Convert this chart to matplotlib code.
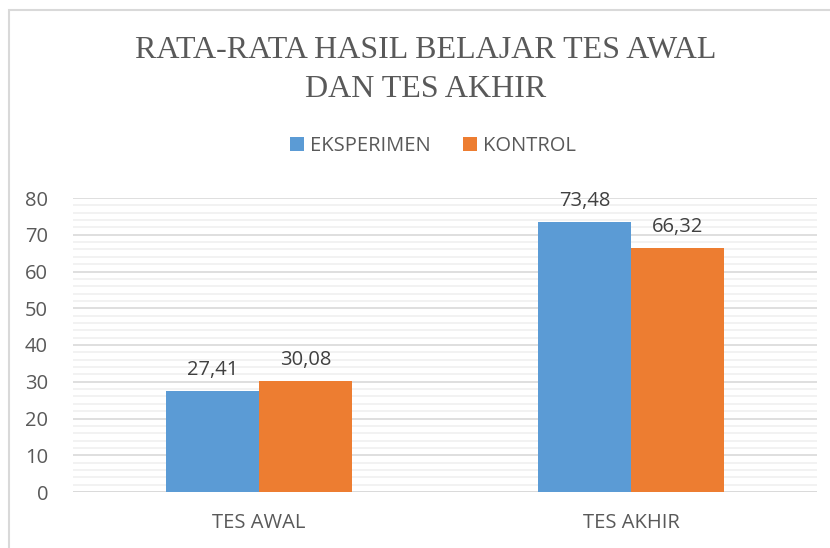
import matplotlib.pyplot as plt
import numpy as np
from matplotlib.patches import Rectangle
from matplotlib.ticker import MultipleLocator

categories = ["TES AWAL", "TES AKHIR"]
eksperimen = [27.41, 73.48]
kontrol = [30.08, 66.32]
series_names = ["EKSPERIMEN", "KONTROL"]
title = "RATA-RATA HASIL BELAJAR TES AWAL\nDAN TES AKHIR"

blue = "#5B9BD5"
orange = "#ED7D31"
text_gray = "#595959"

plt.rcParams['font.family'] = ['Open Sans', 'DejaVu Sans']

fig = plt.figure(figsize=(8.3, 5.48), dpi=100)
ax = fig.add_axes([73 / 830, 1 - 492 / 548, 744 / 830, (492 - 198) / 548])

# chart border (only left and top visible in the crop)
fig.patches.append(Rectangle((8.5 / 830, -0.1), 1.2, 1.1 - 10.5 / 548,
                             transform=fig.transFigure, fill=False,
                             edgecolor="#D9D9D9", linewidth=1.5))

x = np.arange(len(categories))
w = 0.25
b1 = ax.bar(x - w / 2, eksperimen, w, color=blue, label=series_names[0], zorder=3)
b2 = ax.bar(x + w / 2, kontrol, w, color=orange, label=series_names[1], zorder=3)

for bars, vals in ((b1, eksperimen), (b2, kontrol)):
    for rect, v in zip(bars, vals):
        ax.text(rect.get_x() + rect.get_width() / 2, v + 4.4, f"{v:.2f}".replace(".", ","),
                ha="center", va="baseline", fontsize=14.5, color="#404040")

ax.set_xlim(-0.5, 1.5)
ax.set_ylim(0, 80)
ax.set_xticks(x)
ax.set_xticklabels(categories)
ax.yaxis.set_major_locator(MultipleLocator(10))
ax.yaxis.set_minor_locator(MultipleLocator(2))
ax.grid(which="major", axis="y", color="#D9D9D9", linewidth=1.2, zorder=0)
ax.grid(which="minor", axis="y", color="#F0F0F0", linewidth=1.2, zorder=0)
ax.tick_params(axis="both", which="both", length=0, labelsize=14.5, colors=text_gray)
ax.tick_params(axis="x", pad=15)
ax.tick_params(axis="y", pad=18)
for s in ax.spines.values():
    s.set_visible(False)
ax.axhline(0, color="#D9D9D9", linewidth=1.2, zorder=2)

fig.text(426 / 830, 1 - 70 / 548, title, ha="center", va="center", fontsize=23,
         family="Liberation Serif", color=text_gray, linespacing=1.42)
ax.legend(loc="center", bbox_to_anchor=(433 / 830, (548 - 146) / 548), bbox_transform=fig.transFigure,
          ncol=2, frameon=False, fontsize=14.5, handlelength=0.7, handleheight=0.7,
          handletextpad=0.3, columnspacing=1.6, labelcolor=text_gray)

fig.savefig("out.png", dpi=100)
